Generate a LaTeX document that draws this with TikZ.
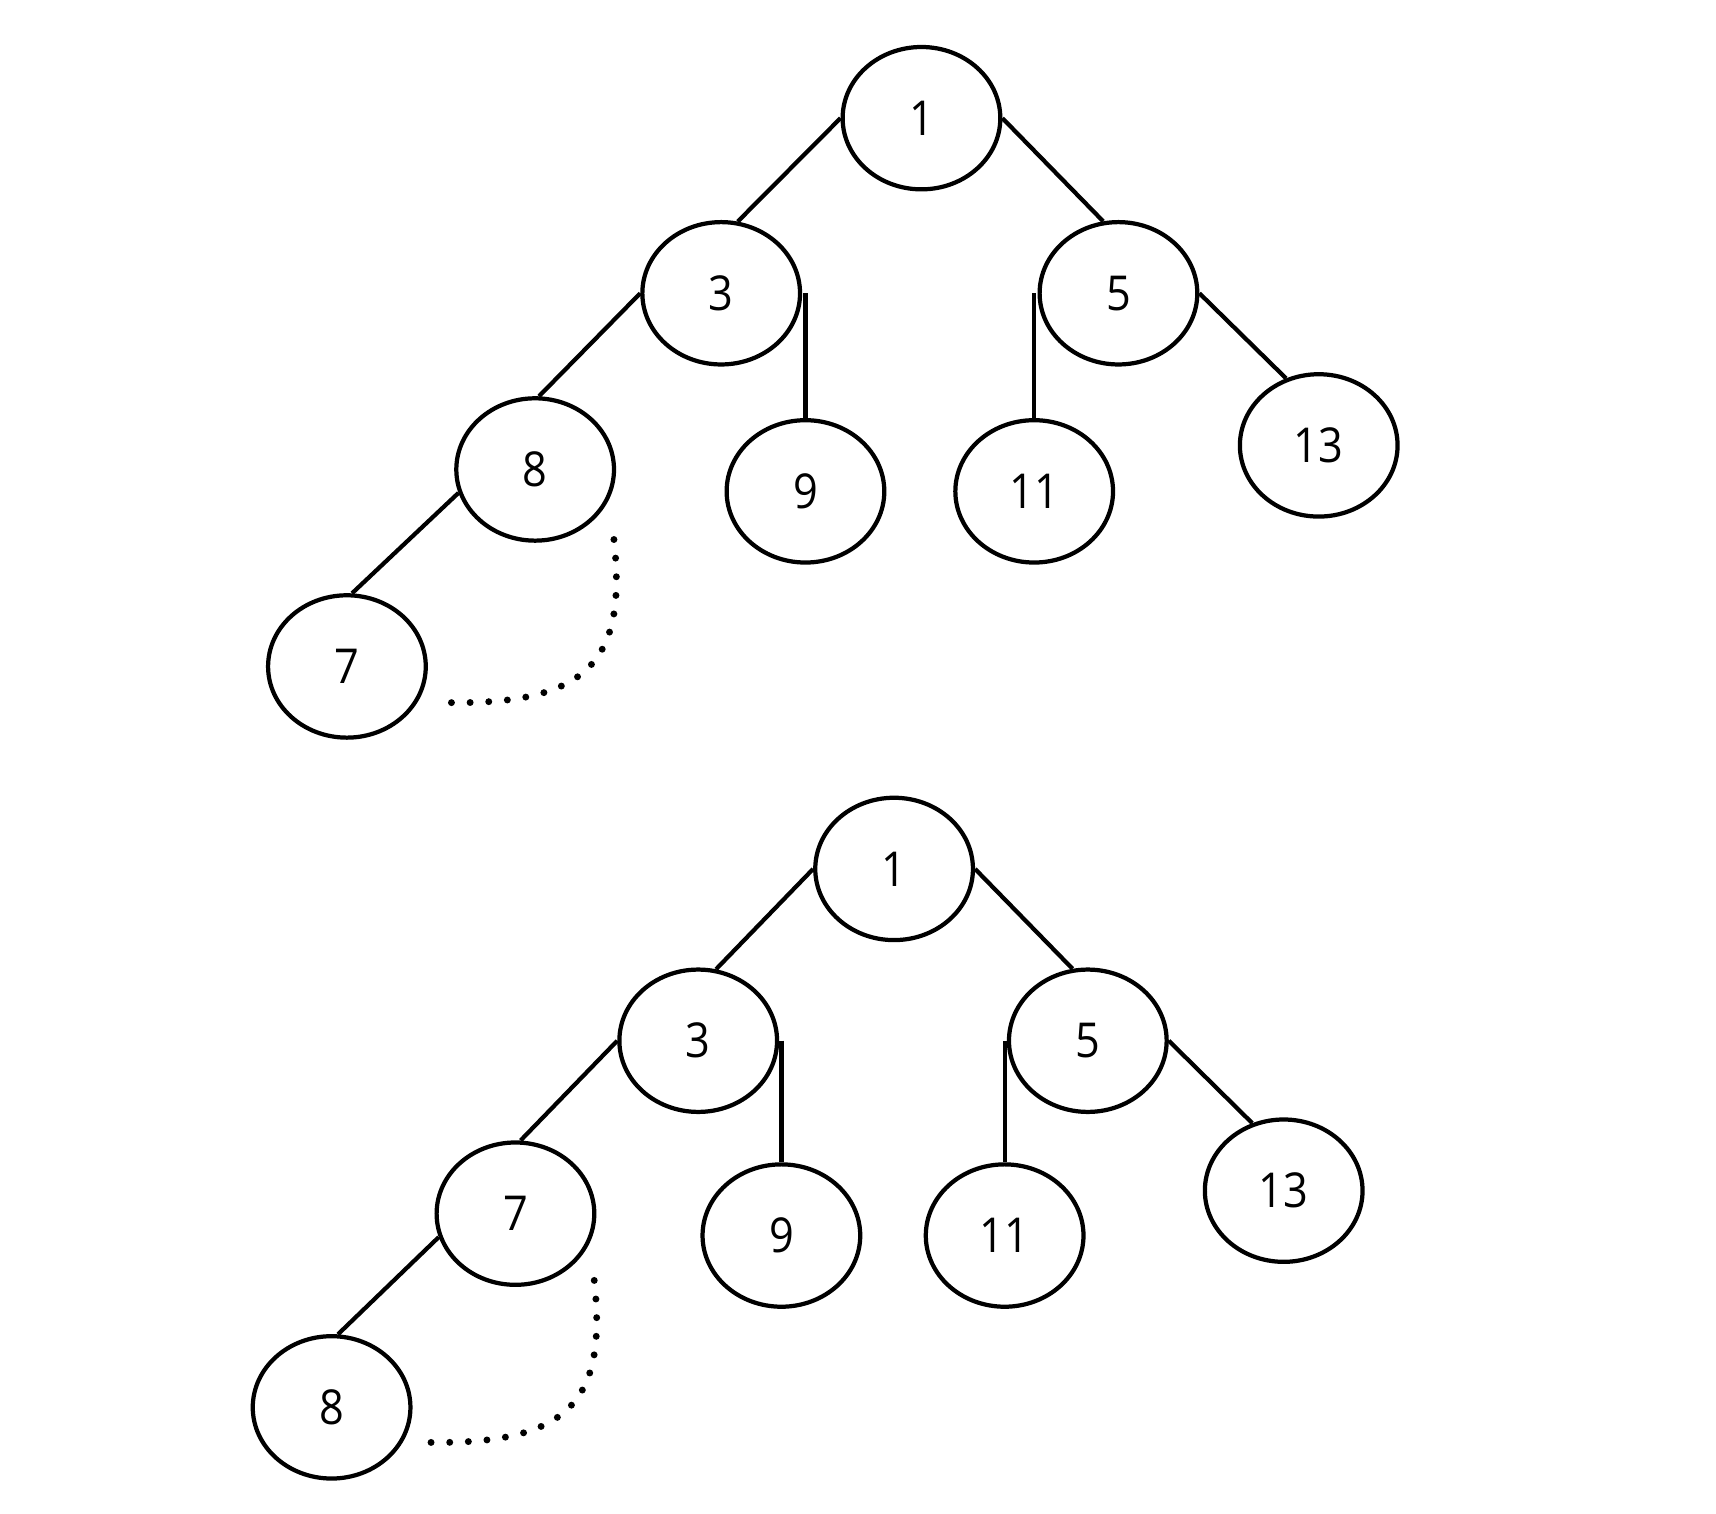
\documentclass[tikz,border=0pt]{standalone}
\usepackage{fontspec}
\setmainfont[FakeStretch=0.9]{Open Sans}
\usetikzlibrary{shapes.geometric}

\begin{document}
\begin{tikzpicture}[
    x=0.01cm, y=-0.01cm,
    font=\fontsize{12.5}{15}\selectfont,
    key/.style={draw, ellipse, line width=1.1pt, inner sep=0pt,
                minimum width=1.44cm, minimum height=1.30cm},
    edge/.style={line width=1.1pt},
    swp/.style={line width=1.8pt, line cap=round, dash pattern=on 0pt off 4.85pt}]

    \useasboundingbox (0,0) rectangle (1568,1383);

    \node[key] (t1)  at (842,108)  {1};
    \node[key] (t3)  at (659,268)  {3};
    \node[key] (t5)  at (1022,268) {5};
    \node[key] (t8)  at (489,429)  {8};
    \node[key] (t9)  at (736,449)  {9};
    \node[key] (t11) at (945,449)  {11};
    \node[key] (t13) at (1205,407) {13};
    \node[key] (t7)  at (317,609)  {7};

    \draw[edge] (t1.west) -- (t3.77);
    \draw[edge] (t1.east) -- (t5.102);
    \draw[edge] (t3.west) -- (t8.87);
    \draw[edge] (t9.north |- t3.east) -- (t9.north);
    \draw[edge] (t11.north |- t5.west) -- (t11.north);
    \draw[edge] (t5.east) -- (t13.116);
    \draw[edge] (t8.197) -- (t7.86);

    \coordinate (ts) at ([shift={(72,64)}]t8.center);
    \coordinate (te) at ([shift={(92,33)}]t7.center);
    \draw[swp] (ts) .. controls +(12,110) and +(130,2) .. (te);

    \node[key] (b1)  at (817,794)  {1};
    \node[key] (b3)  at (638,951)  {3};
    \node[key] (b5)  at (994,951)  {5};
    \node[key] (b7)  at (471,1109) {7};
    \node[key] (b9)  at (714,1129) {9};
    \node[key] (b11) at (918,1129) {11};
    \node[key] (b13) at (1173,1088){13};
    \node[key] (b8)  at (303,1286) {8};

    \draw[edge] (b1.west) -- (b3.76);
    \draw[edge] (b1.east) -- (b5.102);
    \draw[edge] (b3.west) -- (b7.86);
    \draw[edge] (b9.north |- b3.east) -- (b9.north);
    \draw[edge] (b11.north |- b5.west) -- (b11.north);
    \draw[edge] (b5.east) -- (b13.115);
    \draw[edge] (b7.197) -- (b8.85);

    \coordinate (bs) at ([shift={(72,61)}]b7.center);
    \coordinate (be) at ([shift={(88,32)}]b8.center);
    \draw[swp] (bs) .. controls +(12,110) and +(130,2) .. (be);
\end{tikzpicture}
\end{document}
